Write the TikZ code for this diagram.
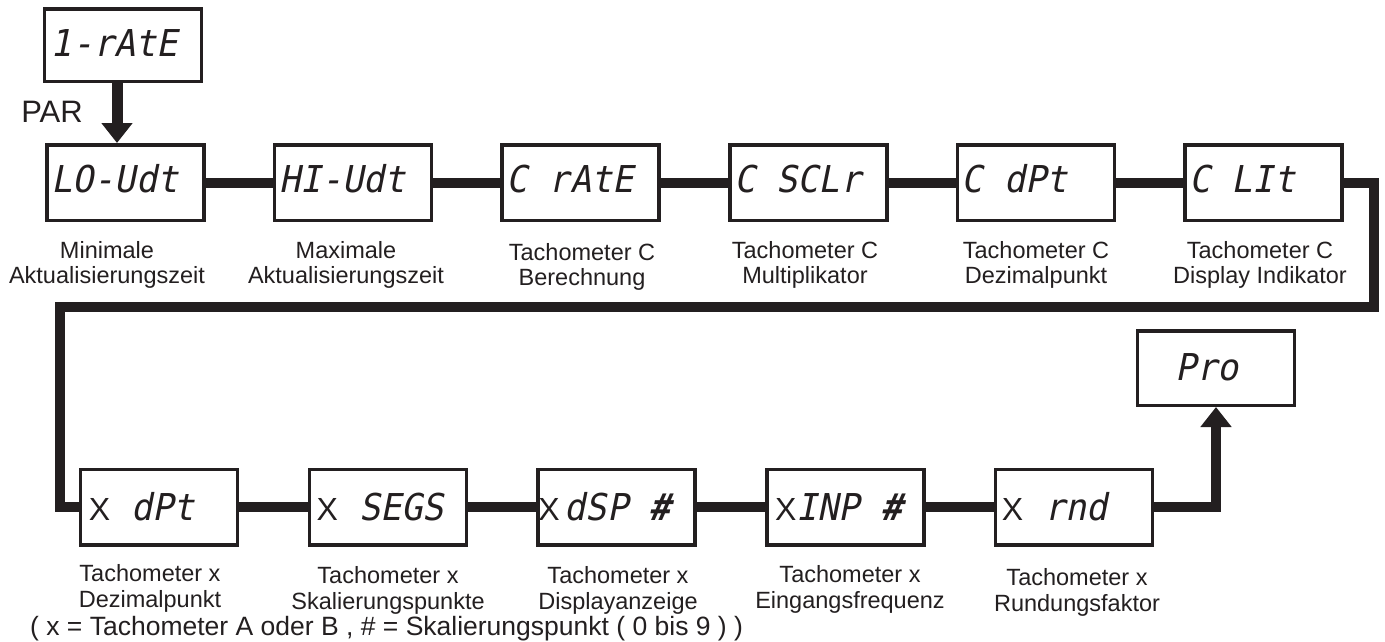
\documentclass[tikz,border=0pt]{standalone}
\usepackage{fontspec}
\setmainfont{Liberation Sans}
\newfontfamily\lcd[FakeSlant=0.2,FakeStretch=0.95]{DejaVu Sans Mono}
\usetikzlibrary{arrows.meta}
\definecolor{ink}{RGB}{35,31,32}
% plain sans "x" placeholder shown in front of the segment text
\newcommand\tachx{{\rmfamily\fontsize{32}{32}\selectfont X}}

\begin{document}
\begin{tikzpicture}[x=1pt,y=-1pt,
  disp/.style={draw=ink, line width=3.5pt, minimum width=157pt, minimum height=75.5pt, inner sep=0pt},
  seg/.style={inner sep=0pt, anchor=base west, text=ink, font=\lcd\fontsize{37}{37}\selectfont},
  lbl/.style={inner sep=0pt, anchor=north, align=center, text=ink, font=\fontsize{23.5}{25}\selectfont},
  wire/.style={draw=ink, line width=10pt, line join=miter},
  tip/.style={-{Triangle[width=30pt,length=20pt]}},
]
\useasboundingbox (0,0) rectangle (1385,641);
\fill[white] (0,0) rectangle (1385,641);

% entry display
\node[disp, minimum height=72.5pt] (rate) at (123,45) {};
\node[seg] (rate-t) at ([xshift=8pt,yshift=-11.5pt]rate.west) {1-rAtE};
\node[inner sep=0pt, text=ink, font=\fontsize{31}{31}\selectfont] (par) at (52,112) {PAR};

% first row of parameters
\node[disp] (lo)  at (125.5,182.5) {};
\node[disp] (hi)  at (353.1,182.5) {};
\node[disp] (cr)  at (580.7,182.5) {};
\node[disp] (cs)  at (808.3,182.5) {};
\node[disp] (cd)  at (1035.9,182.5) {};
\node[disp] (ci)  at (1263.5,182.5) {};

\node[seg] (lo-t) at ([xshift=6pt,yshift=-9.5pt]lo.west) {LO-Udt};
\node[seg] (hi-t) at ([xshift=6pt,yshift=-9.5pt]hi.west) {HI-Udt};
\node[seg] (cr-t) at ([xshift=6pt,yshift=-9.5pt]cr.west) {C rAtE};
\node[seg] (cs-t) at ([xshift=6pt,yshift=-9.5pt]cs.west) {C SCLr};
\node[seg] (cd-t) at ([xshift=6pt,yshift=-9.5pt]cd.west) {C dPt};
\node[seg] (ci-t) at ([xshift=6pt,yshift=-9.5pt]ci.west) {C LIt};

\node[lbl] (lo-c) at (107,241) {Minimale\\Aktualisierungszeit};
\node[lbl] (hi-c) at (346,241) {Maximale\\Aktualisierungszeit};
\node[lbl] (cr-c) at (582,243) {Tachometer C\\Berechnung};
\node[lbl] (cs-c) at (805,241) {Tachometer C\\Multiplikator};
\node[lbl] (cd-c) at (1036,241) {Tachometer C\\Dezimalpunkt};
\node[lbl] (ci-c) at (1260,241) {Tachometer C\\Display Indikator};

% second row of parameters
\node[disp] (xdpt) at (159,507) {};
\node[disp] (xseg) at (387.75,507) {};
\node[disp] (xdsp) at (616.5,507) {};
\node[disp] (xinp) at (845.25,507) {};
\node[disp] (xrnd) at (1074,507) {};
\node[disp, minimum height=74.5pt] (pro) at (1216,368) {};

\node[seg] (xdpt-t) at ([xshift=10pt,yshift=-13.5pt]xdpt.west) {\tachx{} dPt};
\node[seg] (xseg-t) at ([xshift=9pt,yshift=-13.5pt]xseg.west) {\tachx{} SEGS};
\node[seg] (xdsp-t) at ([xshift=2pt,yshift=-13.5pt]xdsp.west) {\tachx\kern5pt dSP \textbf{\#}};
\node[seg] (xinp-t) at ([xshift=10pt,yshift=-13.5pt]xinp.west) {\tachx INP \textbf{\#}};
\node[seg] (xrnd-t) at ([xshift=8pt,yshift=-13.5pt]xrnd.west) {\tachx{} rnd};
\node[seg, anchor=base] (pro-t) at ([xshift=-9pt,yshift=-12pt]pro.center) {Pro};

\node[lbl, font=\fontsize{23.5}{26}\selectfont] (xdpt-c) at (150,564) {Tachometer x\\Dezimalpunkt};
\node[lbl, font=\fontsize{23.5}{26}\selectfont] (xseg-c) at (388,566) {Tachometer x\\Skalierungspunkte};
\node[lbl, font=\fontsize{23.5}{26}\selectfont] (xdsp-c) at (618,566) {Tachometer x\\Displayanzeige};
\node[lbl, font=\fontsize{23.5}{26}\selectfont] (xinp-c) at (850,565) {Tachometer x\\Eingangsfrequenz};
\node[lbl, font=\fontsize{23.5}{26}\selectfont] (xrnd-c) at (1077,568) {Tachometer x\\Rundungsfaktor};

\node[inner sep=0pt, anchor=base west, text=ink, font=\fontsize{26.5}{26.5}\selectfont] (note) at (30,635)
  {( x = Tachometer A oder B , \# = Skalierungspunkt ( 0 bis 9 ) )};

% connectors
\draw[ink, line width=11pt, tip] ([xshift=-6pt]rate.south) -- ([xshift=-6pt]rate.south |- lo.north);

\draw[wire] (lo.east) -- (hi.west);
\draw[wire] (hi.east) -- (cr.west);
\draw[wire] (cr.east) -- (cs.west);
\draw[wire] (cs.east) -- (cd.west);
\draw[wire] (cd.east) -- (ci.west);

\coordinate (ne) at (1374,307);
\coordinate (nw) at (60,307);
\draw[wire] (ci.east) -| (ne) -- (nw) |- (xdpt.west);

\draw[wire] (xdpt.east) -- (xseg.west);
\draw[wire] (xseg.east) -- (xdsp.west);
\draw[wire] (xdsp.east) -- (xinp.west);
\draw[wire] (xinp.east) -- (xrnd.west);
\draw[wire, tip] (xrnd.east) -| (pro.south);
\end{tikzpicture}
\end{document}
